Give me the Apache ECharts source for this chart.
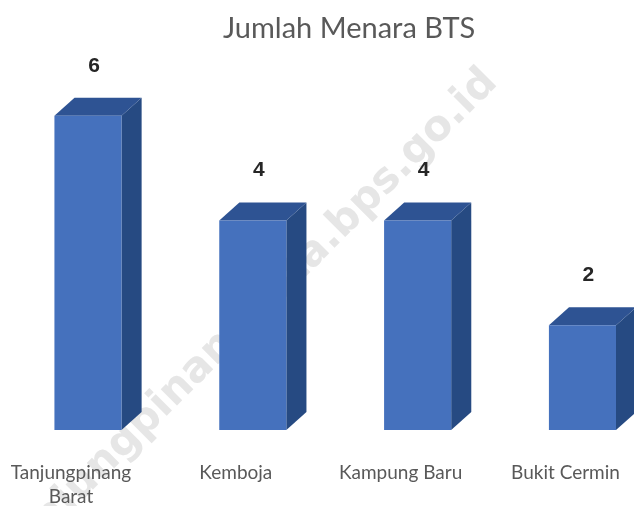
<!DOCTYPE html>
<html>
<head>
<meta charset="utf-8">
<script src="https://cdn.jsdelivr.net/npm/echarts@6/dist/echarts.min.js"></script>
<style>html,body{margin:0;padding:0;background:#fff;}#c{width:634px;height:506px;}</style>
</head>
<body>
<div id="c"></div>
<script>
const titleText = 'Jumlah Menara BTS';
const categories = ['Tanjungpinang\nBarat', 'Kemboja', 'Kampung Baru', 'Bukit Cermin'];
const values = [6, 4, 4, 2];
const watermarkText = 'tanjungpinangkota.bps.go.id';

const chart = echarts.init(document.getElementById('c'), null, {renderer: 'canvas'});

function renderItem(params, api) {
  const i = api.value(0), v = api.value(1);
  const top = api.coord([i, v]);
  const base = api.coord([i, 0]);
  const band = api.size([1, 0])[0];
  const fw = band * 0.407, dx = band * 0.122, dy = 18, shift = band * 0.103;
  const cx = top[0] + shift;
  const x0 = cx - fw / 2, x1 = cx + fw / 2;
  return {
    type: 'group',
    children: [
      {type: 'polygon', shape: {points: [[x1, top[1]], [x1 + dx, top[1] - dy], [x1 + dx, base[1] - dy], [x1, base[1]]]},
       style: {fill: '#264A82'}},
      {type: 'polygon', shape: {points: [[x0, top[1]], [x0 + dx, top[1] - dy], [x1 + dx, top[1] - dy], [x1, top[1]]]},
       style: {fill: '#2E5393'}},
      {type: 'rect', shape: {x: x0, y: top[1], width: fw, height: base[1] - top[1]},
       style: {fill: '#4571BD'}},
      {type: 'text', x: cx + 6, y: top[1] - 50,
       style: {text: String(v), fill: '#262626', font: 'bold 21px Arial, "Liberation Sans"', align: 'center', verticalAlign: 'middle'}},
      {type: 'text', x: top[0], y: base[1] + 31,
       style: {text: categories[i], fill: '#595959', font: '19px Lato', lineHeight: 24, align: 'center', verticalAlign: 'top'}}
    ]
  };
}

chart.setOption({
  backgroundColor: '#ffffff',
  animation: false,
  title: {
    text: titleText, left: 218, top: 9,
    textStyle: {fontFamily: 'Lato', fontSize: 29, fontWeight: 'normal', color: '#595959'}
  },
  graphic: [{
    type: 'text', z: -10, x: 491, y: 76, rotation: 45 * Math.PI / 180,
    style: {text: watermarkText, fill: '#e6e6e6', font: 'bold 42px "DejaVu Sans"', align: 'right', verticalAlign: 'middle'}
  }],
  grid: {left: 0, right: 0, top: 11, bottom: 76, containLabel: false},
  xAxis: {type: 'value', min: -0.4307, max: 3.4157, show: false, splitLine: {show: false}},
  yAxis: {type: 'value', min: 0, max: 8, show: false, splitLine: {show: false}},
  series: [{
    type: 'custom', renderItem: renderItem, z: 5, clip: false,
    data: values.map((v, i) => [i, v]),
    encode: {x: 0, y: 1}
  }]
});
</script>
</body>
</html>
